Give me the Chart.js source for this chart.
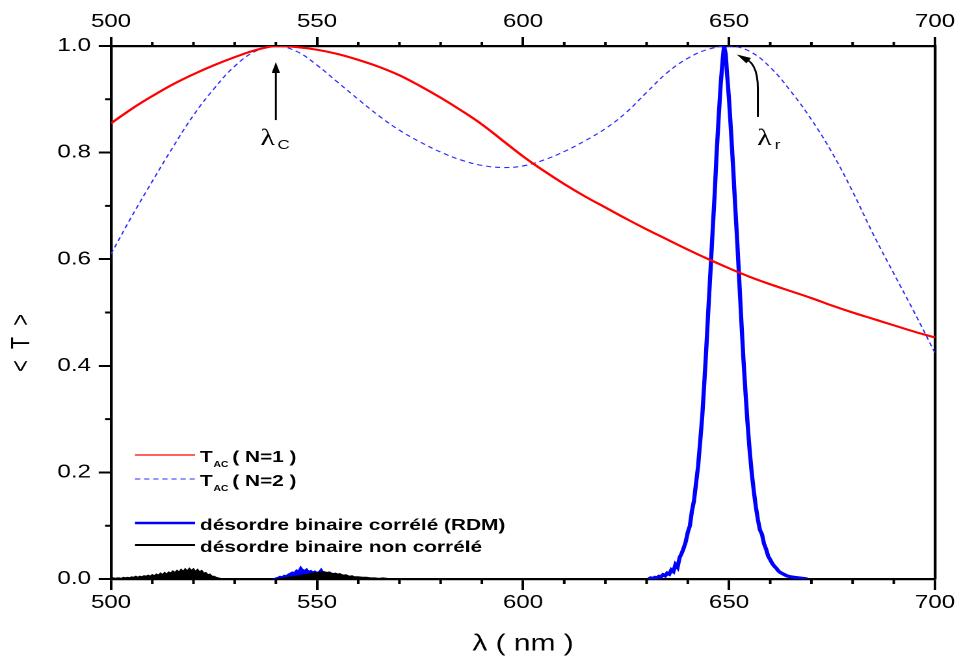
<!DOCTYPE html>
<html>
<head>
<meta charset="utf-8">
<script src="https://cdn.jsdelivr.net/npm/chart.js@4/dist/chart.umd.min.js"></script>
<style>
  body { margin: 0; background: #fff; }
  /* the original figure is stretched sideways, so the chart is drawn narrow and widened */
  #wrap { width: 739px; height: 660px; transform: scaleX(1.30041); transform-origin: 0 0; }
</style>
</head>
<body>
<div id="wrap"><canvas id="chart" width="739" height="660"></canvas></div>
<script>
// axis ticks
const xMajor = [500, 550, 600, 650, 700];
const xMinor = [510, 520, 530, 540, 560, 570, 580, 590, 610, 620, 630, 640, 660, 670, 680, 690];
const yMajor = [0, 0.2, 0.4, 0.6, 0.8, 1.0];
const yMinor = [0.1, 0.3, 0.5, 0.7, 0.9];

// T_AC (N=1) and T_AC (N=2), every 5 nm
const curveNm = [500, 505, 510, 515, 520, 525, 530, 535, 540, 545, 550, 555, 560, 565, 570, 575, 580, 585, 590, 595,
  600, 605, 610, 615, 620, 625, 630, 635, 640, 645, 650, 655, 660, 665, 670, 675, 680, 685, 690, 695, 700];
const tacN1 = [0.855, 0.882, 0.906, 0.928, 0.947, 0.964, 0.979, 0.992, 1.0, 0.998, 0.993, 0.985, 0.974, 0.961, 0.945, 0.925, 0.903, 0.879, 0.853, 0.823,
  0.793, 0.766, 0.741, 0.718, 0.697, 0.676, 0.656, 0.637, 0.618, 0.6, 0.583, 0.567, 0.553, 0.54, 0.527, 0.513, 0.5, 0.488, 0.476, 0.464, 0.453];
const tacN2 = [0.61, 0.68, 0.746, 0.81, 0.87, 0.92, 0.962, 0.99, 1.0, 0.99, 0.964, 0.932, 0.9, 0.869, 0.842, 0.82, 0.801, 0.786, 0.776, 0.772,
  0.775, 0.786, 0.802, 0.822, 0.845, 0.875, 0.913, 0.95, 0.977, 0.994, 1.0, 0.99, 0.96, 0.915, 0.862, 0.8, 0.727, 0.647, 0.573, 0.5, 0.424];

// correlated binary disorder (RDM): resonance peak near 649 nm
const rdmNm = [630.5, 631, 631.5, 632, 632.5, 633, 633.5, 634, 634.5, 635, 635.5, 636, 636.5, 637, 637.5, 638, 638.5, 639, 639.5, 640,
  640.5, 641, 641.5, 642, 642.5, 643, 643.5, 644, 644.5, 645, 645.5, 646, 646.5, 647, 647.5, 648, 648.5, 648.8, 649.2,
  649.5, 650, 650.5, 651, 651.5, 652, 652.5, 653, 653.5, 654, 654.5, 655, 655.5, 656, 656.5, 657, 657.5, 658, 658.5, 659,
  659.5, 660, 660.5, 661, 661.5, 662, 662.5, 663, 663.5, 664, 664.5, 665, 666, 667, 668, 669];
const rdmT = [0, 0.002, 0.001, 0.003, 0.002, 0.005, 0.004, 0.008, 0.006, 0.011, 0.009, 0.017, 0.014, 0.027, 0.022, 0.04, 0.048, 0.058, 0.07, 0.088,
  0.1, 0.128, 0.147, 0.18, 0.212, 0.258, 0.305, 0.368, 0.435, 0.508, 0.578, 0.65, 0.72, 0.8, 0.868, 0.93, 0.978, 1.0, 0.985,
  0.95, 0.9, 0.838, 0.772, 0.7, 0.632, 0.558, 0.483, 0.412, 0.35, 0.292, 0.242, 0.2, 0.166, 0.136, 0.112, 0.092, 0.084, 0.066, 0.056,
  0.043, 0.036, 0.029, 0.024, 0.02, 0.015, 0.012, 0.01, 0.008, 0.006, 0.005, 0.004, 0.003, 0.002, 0.001, 0];

// RDM small bumps near the band edge (null = gap)
const rdmLowNm = [509, 510, 511, 512, 513, 514, 515, 516, 517, 518, 519, 520, 521, 522, 523, 524, 525, 526, 532,
  539.5, 540, 540.5, 541, 541.5, 542, 542.5, 543, 543.5, 544, 544.5, 545, 545.5, 546, 546.5, 547, 547.5, 548, 548.5, 549,
  549.5, 550, 550.5, 551, 551.5, 552, 552.5, 553, 553.5, 554, 554.5, 555, 555.5, 556, 556.5, 557, 557.5, 558, 558.5, 559];
const rdmLowT = [0, 0.001, 0.002, 0.001, 0.003, 0.002, 0.003, 0.004, 0.003, 0.004, 0.003, 0.004, 0.003, 0.002, 0.003, 0.001, 0.001, 0, null,
  0, 0.002, 0.003, 0.005, 0.004, 0.007, 0.006, 0.009, 0.011, 0.013, 0.012, 0.017, 0.015, 0.023, 0.018, 0.016, 0.019, 0.014, 0.016, 0.013,
  0.015, 0.012, 0.014, 0.019, 0.013, 0.012, 0.01, 0.011, 0.008, 0.009, 0.006, 0.007, 0.005, 0.004, 0.004, 0.003, 0.002, 0.002, 0.001, 0];

// uncorrelated binary disorder
const uncorNm = [500, 500.5, 501, 501.5, 502, 502.5, 503, 503.5, 504, 504.5, 505, 505.5, 506, 506.5, 507, 507.5, 508, 508.5, 509, 509.5,
  510, 510.5, 511, 511.5, 512, 512.5, 513, 513.5, 514, 514.5, 515, 515.5, 516, 516.5, 517, 517.5, 518, 518.5, 519, 519.5,
  520, 520.5, 521, 521.5, 522, 522.5, 523, 523.5, 524, 524.5, 525, 525.5, 526, 526.5, 527, 533,
  540, 541, 542, 543, 544, 545, 546, 547, 548, 548.5, 549, 549.5, 550, 550.5, 551, 551.5, 552, 552.5, 553, 553.5,
  554, 554.5, 555, 555.5, 556, 556.5, 557, 557.5, 558, 558.5, 559, 560, 561, 562, 563, 564, 565, 566, 567, 568];
const uncorT = [0.001, 0.002, 0.001, 0.002, 0.002, 0.001, 0.003, 0.002, 0.003, 0.002, 0.004, 0.003, 0.005, 0.003, 0.005, 0.004, 0.006, 0.005, 0.007, 0.005,
  0.008, 0.006, 0.009, 0.007, 0.011, 0.008, 0.012, 0.009, 0.013, 0.011, 0.015, 0.012, 0.016, 0.013, 0.018, 0.014, 0.019, 0.015, 0.02, 0.016,
  0.019, 0.014, 0.018, 0.013, 0.016, 0.011, 0.012, 0.008, 0.009, 0.005, 0.005, 0.003, 0.002, 0.001, 0, null,
  0, 0.001, 0.002, 0.003, 0.004, 0.005, 0.006, 0.008, 0.009, 0.011, 0.01, 0.012, 0.011, 0.013, 0.012, 0.014, 0.013, 0.012, 0.013, 0.011,
  0.01, 0.011, 0.009, 0.01, 0.008, 0.007, 0.008, 0.006, 0.005, 0.006, 0.004, 0.004, 0.003, 0.003, 0.002, 0.002, 0.001, 0.002, 0.001, 0];

const legendText = ['( N=1 )', '( N=2 )', 'désordre binaire corrélé (RDM)', 'désordre binaire non corrélé'];

const FONT = '"Liberation Sans", Arial, sans-serif';
const pts = (xs, ys) => xs.map((x, i) => ({ x: x, y: ys[i] }));

// legend, arrows, minor ticks and y title
const extras = {
  id: 'extras',
  afterDraw(chart) {
    const ctx = chart.ctx;
    const a = chart.chartArea;
    const X = v => chart.scales.x.getPixelForValue(v);
    const Y = v => chart.scales.y.getPixelForValue(v);
    ctx.save();
    ctx.strokeStyle = '#000';
    ctx.fillStyle = '#000';

    // minor ticks
    ctx.lineWidth = 2;
    ctx.beginPath();
    xMinor.forEach(v => {
      ctx.moveTo(X(v), a.bottom); ctx.lineTo(X(v), a.bottom + 5);
      ctx.moveTo(X(v), a.top); ctx.lineTo(X(v), a.top - 4);
    });
    yMinor.forEach(v => {
      ctx.moveTo(a.left, Y(v)); ctx.lineTo(a.left - 4.6, Y(v));
    });
    ctx.stroke();

    // y title
    ctx.save();
    ctx.translate(17, a.top + 297);
    ctx.rotate(-Math.PI / 2);
    ctx.font = '20px ' + FONT;
    ctx.textAlign = 'center';
    ctx.textBaseline = 'middle';
    ctx.fillText('<  T  >', 0, 0);
    ctx.restore();

    // legend
    const rows = [
      { color: '#ff0000', width: 1.2, dash: [], dy: 409 },
      { color: '#2a2aff', width: 1, dash: [4, 3], dy: 433 },
      { color: '#0000ff', width: 2.5, dash: [], dy: 477 },
      { color: '#000000', width: 2, dash: [], dy: 499 }
    ];
    rows.forEach((r, i) => {
      const ly = a.top + r.dy;
      ctx.beginPath();
      ctx.strokeStyle = r.color;
      ctx.lineWidth = r.width;
      ctx.setLineDash(r.dash);
      ctx.moveTo(a.left + 18.4, ly);
      ctx.lineTo(a.left + 64.6, ly);
      ctx.stroke();
      ctx.setLineDash([]);
      let tx = a.left + 68.4;
      ctx.textAlign = 'left';
      ctx.textBaseline = 'alphabetic';
      if (i < 2) {
        ctx.font = 'bold 16px ' + FONT;
        ctx.fillText('T', tx, ly + 7);
        tx += ctx.measureText('T').width + 0.5;
        ctx.font = 'bold 8px ' + FONT;
        ctx.fillText('AC', tx, ly + 12);
        tx += ctx.measureText('AC').width + 3;
      }
      ctx.font = 'bold 16px ' + FONT;
      ctx.fillText(legendText[i], tx, ly + 7);
    });

    // arrows
    ctx.strokeStyle = '#000';
    ctx.lineWidth = 1.5;
    const head = (tipX, tipY, fromX, fromY) => {
      const ang = Math.atan2(tipY - fromY, tipX - fromX);
      const len = 11, hw = 3.2;
      ctx.beginPath();
      ctx.moveTo(tipX, tipY);
      ctx.lineTo(tipX - len * Math.cos(ang) + hw * Math.sin(ang), tipY - len * Math.sin(ang) - hw * Math.cos(ang));
      ctx.lineTo(tipX - len * Math.cos(ang) - hw * Math.sin(ang), tipY - len * Math.sin(ang) + hw * Math.cos(ang));
      ctx.closePath();
      ctx.fill();
    };
    ctx.beginPath();
    ctx.moveTo(X(540), Y(0.861));
    ctx.lineTo(X(540), Y(0.955));
    ctx.stroke();
    head(X(540), Y(0.97), X(540), Y(0.9));

    ctx.beginPath();
    ctx.moveTo(X(657), Y(0.867));
    ctx.lineTo(X(657), Y(0.92));
    ctx.quadraticCurveTo(X(657), Y(0.972), X(653.2), Y(0.978));
    ctx.stroke();
    head(X(651.9), Y(0.984), X(653.9), Y(0.976));

    // lambda labels
    ctx.textBaseline = 'alphabetic';
    [['C', 538, 540.4], ['r', 658.6, 661.1]].forEach(n => {
      ctx.font = '23px "Liberation Serif", serif';
      ctx.textAlign = 'center';
      ctx.fillText('λ', X(n[1]), Y(0.814));
      ctx.font = '13px ' + FONT;
      ctx.textAlign = 'left';
      ctx.fillText(n[0], X(n[2]), Y(0.814) + 4);
    });
    ctx.restore();
  }
};

const tickFont = { family: FONT, size: 18.5 };

new Chart(document.getElementById('chart'), {
  type: 'line',
  data: {
    datasets: [
      { data: pts(uncorNm, uncorT), borderColor: '#000', backgroundColor: '#000', borderWidth: 1.2, fill: 'origin', order: 0 },
      { data: pts(curveNm, tacN1), borderColor: '#ff0000', borderWidth: 2.1, tension: 0.4, order: 1 },
      { data: pts(rdmNm, rdmT), borderColor: '#0000ff', borderWidth: 3.2, order: 2 },
      { data: pts(rdmLowNm, rdmLowT), borderColor: '#0000ff', backgroundColor: '#0000ff', borderWidth: 1.2, fill: 'origin', order: 3 },
      { data: pts(curveNm, tacN2), borderColor: '#2a2aff', borderWidth: 1.1, borderDash: [4, 3], tension: 0.4, order: 4 }
    ]
  },
  options: {
    responsive: false,
    devicePixelRatio: 2,
    animation: false,
    events: [],
    layout: { padding: 0 },
    elements: { point: { radius: 0 }, line: { fill: false } },
    plugins: { legend: { display: false }, tooltip: { enabled: false } },
    scales: {
      x: {
        type: 'linear', position: 'bottom', min: 500, max: 700,
        afterBuildTicks: s => { s.ticks = xMajor.map(v => ({ value: v })); },
        afterFit: s => { s.height = 81; },
        ticks: { color: '#000', font: tickFont, padding: 2, maxRotation: 0 },
        grid: { drawOnChartArea: false, tickLength: 11, tickWidth: 2, tickColor: '#000' },
        border: { color: '#000', width: 2.2 },
        title: { display: true, text: 'λ ( nm )', color: '#000', font: { family: FONT, size: 23 }, padding: { top: 0, bottom: 2 } }
      },
      x2: {
        type: 'linear', position: 'top', min: 500, max: 700, display: true,
        afterBuildTicks: s => { s.ticks = xMajor.map(v => ({ value: v })); },
        afterFit: s => { s.height = 46; },
        ticks: { color: '#000', font: tickFont, padding: 4, maxRotation: 0 },
        grid: { drawOnChartArea: false, tickLength: 9, tickWidth: 2, tickColor: '#000' },
        border: { color: '#000', width: 2.2 }
      },
      y: {
        type: 'linear', position: 'left', min: 0, max: 1,
        afterBuildTicks: s => { s.ticks = yMajor.map(v => ({ value: v })); },
        afterFit: s => { s.width = 85.4; },
        ticks: { color: '#000', font: tickFont, padding: 6, callback: v => v.toFixed(1) },
        grid: { drawOnChartArea: false, tickLength: 9.5, tickWidth: 2, tickColor: '#000' },
        border: { color: '#000', width: 2.2 }
      },
      y2: {
        type: 'linear', position: 'right', min: 0, max: 1, display: true,
        afterFit: s => { s.width = 20; },
        ticks: { display: false },
        grid: { display: false, drawTicks: false },
        border: { color: '#000', width: 2.2 }
      }
    }
  },
  plugins: [extras]
});
</script>
</body>
</html>
